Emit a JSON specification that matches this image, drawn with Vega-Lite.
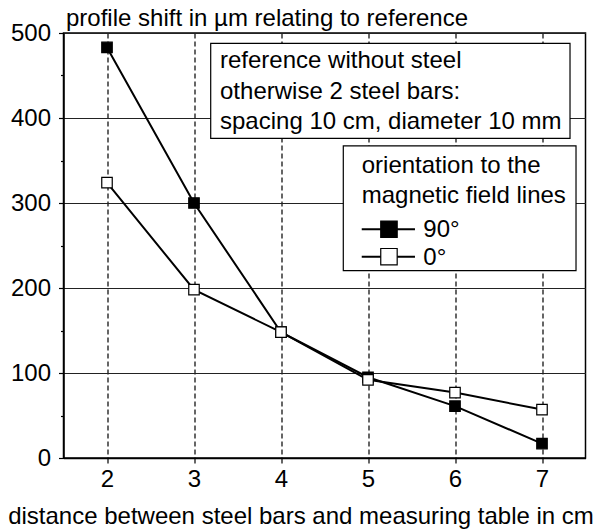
{
  "$schema": "https://vega.github.io/schema/vega-lite/v6.json",
  "width": 522,
  "height": 425,
  "autosize": {"type": "none"},
  "padding": {"left": 63.5, "top": 33, "right": 15.5, "bottom": 73},
  "background": "white",
  "config": {
    "view": {"stroke": "black", "strokeWidth": 1.5},
    "font": "Liberation Sans",
    "axis": {"labelFont": "Liberation Sans", "titleFont": "Liberation Sans", "labelColor": "black", "titleColor": "black", "titleFontWeight": "normal", "domainColor": "black", "tickColor": "black", "domainWidth": 1.5, "tickWidth": 1.2}
  },
  "datasets": {
    "series": [
      {"x": 2, "y": 483, "s": "90°"},
      {"x": 3, "y": 300, "s": "90°"},
      {"x": 4, "y": 148, "s": "90°"},
      {"x": 5, "y": 95, "s": "90°"},
      {"x": 6, "y": 61, "s": "90°"},
      {"x": 7, "y": 17, "s": "90°"},
      {"x": 2, "y": 324, "s": "0°"},
      {"x": 3, "y": 198, "s": "0°"},
      {"x": 4, "y": 148, "s": "0°"},
      {"x": 5, "y": 92, "s": "0°"},
      {"x": 6, "y": 77, "s": "0°"},
      {"x": 7, "y": 57, "s": "0°"}
    ],
    "boxes": [
      {"x1": 3.192, "x2": 7.322, "y1": 487.9, "y2": 376.1},
      {"x1": 4.716, "x2": 7.391, "y1": 367.1, "y2": 220.4}
    ],
    "notes": [
      {"x": 3.299, "y": 458.8, "t": "reference without steel"},
      {"x": 3.299, "y": 422.9, "t": "otherwise 2 steel bars:"},
      {"x": 3.299, "y": 387.0, "t": "spacing 10 cm, diameter 10 mm"},
      {"x": 4.928, "y": 334.9, "t": "orientation to the"},
      {"x": 4.928, "y": 299.6, "t": "magnetic field lines"},
      {"x": 5.636, "y": 260.5, "t": "90°"},
      {"x": 5.636, "y": 226.5, "t": "0°"}
    ],
    "legsym": [
      {"x1": 4.928, "x2": 5.54, "xc": 5.241, "y": 269.1, "s": "90°"},
      {"x1": 4.928, "x2": 5.54, "xc": 5.241, "y": 236.8, "s": "0°"}
    ]
  },
  "layer": [
    {
      "data": {"name": "boxes"},
      "mark": {"type": "rect", "fill": "white", "stroke": "black", "strokeWidth": 1.2},
      "encoding": {
        "x": {
          "field": "x1", "type": "quantitative",
          "scale": {"domain": [1.5, 7.5], "nice": false, "zero": false},
          "axis": {
            "values": [2, 2.5, 3, 3.5, 4, 4.5, 5, 5.5, 6, 6.5, 7],
            "format": "d",
            "labelExpr": "datum.value % 1 === 0 ? datum.label : ''",
            "labelFontSize": 24,
            "labelPadding": 4,
            "tickSize": {"condition": {"test": "datum.value % 1 === 0", "value": 5}, "value": -4},
            "grid": true,
            "gridColor": "black",
            "gridDash": [5, 3],
            "gridWidth": 1.2,
            "gridOpacity": {"condition": {"test": "datum.value % 1 === 0", "value": 1}, "value": 0},
            "title": "distance between steel bars and measuring table in cm",
            "titleFontSize": 24,
            "titleX": 237,
            "titleY": 65,
            "titleAnchor": null,
            "titleAlign": "center",
            "titleBaseline": "alphabetic"
          }
        },
        "x2": {"field": "x2"},
        "y": {
          "field": "y1", "type": "quantitative",
          "scale": {"domain": [0, 500], "nice": false},
          "axis": {
            "values": [0, 50, 100, 150, 200, 250, 300, 350, 400, 450, 500],
            "labelExpr": "datum.value % 100 === 0 ? datum.label : ''",
            "labelFontSize": 24,
            "labelPadding": 8,
            "tickSize": {"condition": {"test": "datum.value % 100 === 0", "value": 5}, "value": 3},
            "grid": true,
            "gridColor": "#222",
            "gridWidth": 1.2,
            "gridOpacity": {"condition": {"test": "datum.value % 100 === 0", "value": 1}, "value": 0},
            "title": "profile shift in µm relating to reference",
            "titleFontSize": 24,
            "titleAngle": 0,
            "titleX": 2,
            "titleY": -8,
            "titleAnchor": null,
            "titleAlign": "left",
            "titleBaseline": "alphabetic"
          }
        },
        "y2": {"field": "y2"}
      }
    },
    {
      "data": {"name": "series"},
      "mark": {"type": "line", "color": "black", "strokeWidth": 2},
      "encoding": {
        "x": {"field": "x", "type": "quantitative"},
        "y": {"field": "y", "type": "quantitative"},
        "detail": {"field": "s"}
      }
    },
    {
      "data": {"name": "series"},
      "mark": {"type": "point", "shape": "square", "filled": true, "size": 110, "stroke": "black", "strokeWidth": 1.2, "opacity": 1},
      "encoding": {
        "x": {"field": "x", "type": "quantitative"},
        "y": {"field": "y", "type": "quantitative"},
        "fill": {"field": "s", "type": "nominal", "scale": {"domain": ["90°", "0°"], "range": ["black", "white"]}, "legend": null}
      }
    },
    {
      "data": {"name": "legsym"},
      "mark": {"type": "rule", "color": "black", "strokeWidth": 2},
      "encoding": {
        "x": {"field": "x1", "type": "quantitative"},
        "x2": {"field": "x2"},
        "y": {"field": "y", "type": "quantitative"}
      }
    },
    {
      "data": {"name": "legsym"},
      "mark": {"type": "point", "shape": "square", "filled": true, "size": 270, "stroke": "black", "strokeWidth": 1.2, "opacity": 1},
      "encoding": {
        "x": {"field": "xc", "type": "quantitative"},
        "y": {"field": "y", "type": "quantitative"},
        "fill": {"field": "s", "type": "nominal", "scale": {"domain": ["90°", "0°"], "range": ["black", "white"]}, "legend": null}
      }
    },
    {
      "data": {"name": "notes"},
      "mark": {"type": "text", "align": "left", "baseline": "alphabetic", "fontSize": 24, "font": "Liberation Sans", "color": "black"},
      "encoding": {
        "x": {"field": "x", "type": "quantitative"},
        "y": {"field": "y", "type": "quantitative"},
        "text": {"field": "t"}
      }
    }
  ]
}
